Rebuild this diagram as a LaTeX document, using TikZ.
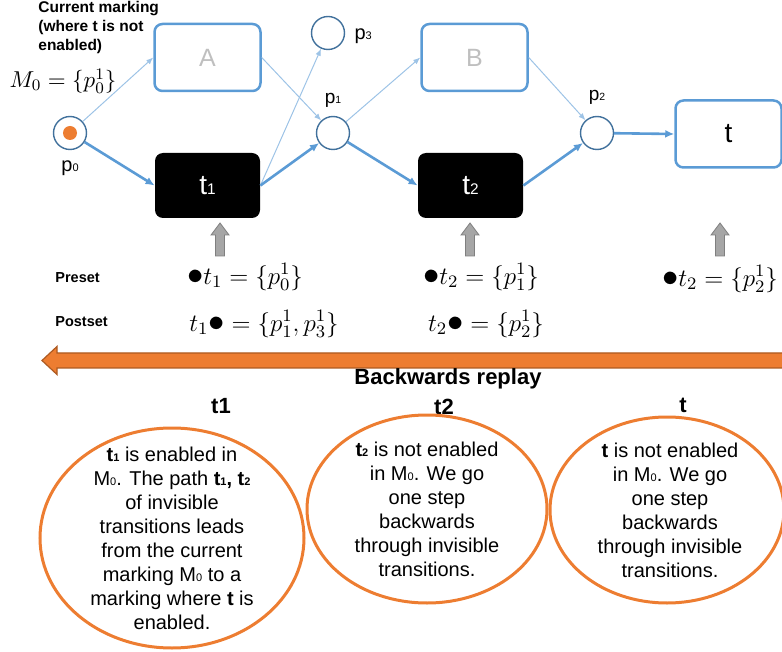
\documentclass[tikz,border=0pt]{standalone}
\usepackage{fix-cm}
\usepackage{amsmath,amssymb}
\usepackage{fontspec}
\setmainfont{Liberation Sans}
\usepackage{xcolor}
\usepackage{tikz}
\usetikzlibrary{shapes.geometric, arrows.meta, positioning}

\definecolor{boxblue}{HTML}{5B9BD5}
\definecolor{lightarc}{HTML}{9DC3E6}
\definecolor{placeblue}{HTML}{41719C}
\definecolor{mkorange}{HTML}{ED7D31}
\definecolor{darkorange}{HTML}{AE5A21}
\definecolor{greyarrow}{HTML}{A6A6A6}
\definecolor{greyedge}{HTML}{7F7F7F}
\definecolor{fadetext}{HTML}{BFBFBF}

\newcommand{\sdig}[1]{\scalebox{0.55}{#1}}
\newcommand{\bigdot}{\mathord{\scalebox{1.3}{$\bullet$}}}

\begin{document}
\begin{tikzpicture}[x=0.5pt, y=-0.5pt, node distance=4pt,
    place/.style={circle, draw=placeblue, line width=0.7pt, fill=white, minimum size=16.5pt, inner sep=0pt},
    token/.style={circle, fill=mkorange, minimum size=7pt, inner sep=0pt},
    silent/.style={rectangle, draw=boxblue, line width=1.25pt, rounded corners=4pt, minimum width=53pt, minimum height=33.5pt, text=fadetext, font=\fontsize{12.5}{14}\selectfont},
    invis/.style={rectangle, fill=black, rounded corners=4pt, minimum width=52.5pt, minimum height=32.5pt, text=white, font=\fontsize{14}{16}\selectfont},
    visible/.style={rectangle, draw=boxblue, fill=white, line width=1.25pt, rounded corners=4pt, minimum width=53pt, minimum height=33.5pt, font=\fontsize{14}{16}\selectfont},
    plabel/.style={inner sep=0pt, font=\fontsize{10}{12}\selectfont},
    formula/.style={inner sep=0pt, font=\fontsize{12.5}{14}\selectfont},
    setname/.style={inner sep=0pt, anchor=west, font=\fontsize{7.25}{9}\selectfont\bfseries},
    heading/.style={inner sep=0pt, font=\fontsize{11}{13}\selectfont\bfseries},
    pointer/.style={fill=greyarrow, draw=greyedge, line width=0.4pt},
    replayarrow/.style={fill=mkorange, draw=darkorange, line width=0.6pt},
    bubble/.style={ellipse, draw=mkorange, line width=1.5pt},
    bubbletext/.style={align=center, inner sep=0pt, font=\fontsize{10}{12}\selectfont},
    softarc/.style={-{Latex[length=3.5pt,width=2.8pt]}, draw=lightarc, line width=0.5pt},
    boldarc/.style={-{Latex[length=4.5pt,width=4pt]}, draw=boxblue, line width=1.3pt}]
    \useasboundingbox (0,0) rectangle (782,652);

    % places and transitions
    \node [place] (p0) at (70,133) {};
    \node [place] (p1) at (333,133) {};
    \node [place] (p2) at (597,133) {};
    \node [place] (p3) at (328,33) {};
    \node [silent] (A) at (207.5,57.5) {A};
    \node [invis] (t1) at (207.5,185.5) {t\sdig{1}};
    \node [silent] (B) at (474.5,57.5) {B};
    \node [invis] (t2) at (470.5,185.5) {t\sdig{2}};
    \node [visible] (t) at (728.5,134) {t};

    \draw [softarc] (p0) -- (A.west);
    \draw [boldarc] (p0) -- (t1.west);
    \draw [softarc] (A.east) -- (p1);
    \draw [softarc] (t1.east) -- (p3);
    \draw [boldarc] (t1.east) -- (p1);
    \draw [softarc] (p1) -- (B.west);
    \draw [boldarc] (p1) -- (t2.west);
    \draw [softarc] (B.east) -- (p2);
    \draw [boldarc] (t2.east) -- (p2);
    \draw [boldarc] (p2) -- (t.west);
    \node [token] (tok) at (p0) {};

    % place names
    \node [plabel, below=5pt of p0] (lp0) {p\sdig{0}};
    \node [plabel, font=\fontsize{9.5}{11}\selectfont, above=4pt of p1] (lp1) {p\sdig{1}};
    \node [plabel, font=\fontsize{9.5}{11}\selectfont, above=5.5pt of p2] (lp2) {p\sdig{2}};
    \node [plabel, right=4.5pt of p3, yshift=-1.5pt] (lp3) {p\sdig{3}};

    % marking
    \node [inner sep=0pt, anchor=north west, align=left, font=\fontsize{7.75}{9.5}\selectfont\bfseries] (cur) at (38,1) {Current marking\\(where t is not\\enabled)};
    \node [formula, font=\fontsize{11.5}{14}\selectfont] (m0) at (63,81) {$M_0 = \{p_0^1\}$};

    % presets and postsets
    \foreach \x in {220,470,720}
        \filldraw [pointer] (\x,223) -- ++(9,12) -- ++(-4.5,0) -- ++(0,21) -- ++(-9,0) -- ++(0,-21) -- ++(-4.5,0) -- cycle;
    \node [setname] (preset) at (55,278) {Preset};
    \node [setname] (postset) at (55,322) {Postset};
    \node [formula] (pre1) at (245,277) {$\bigdot t_1 = \{p_0^1\}$};
    \node [formula] (post1) at (264,324) {$t_1\bigdot = \{p_1^1, p_3^1\}$};
    \node [formula] (pre2) at (481,277) {$\bigdot t_2 = \{p_1^1\}$};
    \node [formula] (post2) at (486,324) {$t_2\bigdot = \{p_2^1\}$};
    \node [formula] (pre3) at (720,279) {$\bigdot t_2 = \{p_2^1\}$};

    % replay
    \filldraw [replayarrow] (42,360.5) -- (57,346.5) -- (57,353) -- (800,353) -- (800,368) -- (57,368) -- (57,374.5) -- cycle;
    \node [heading] (back) at (448,379) {Backwards replay};
    \node [heading] (h1) at (221,406) {t1};
    \node [heading] (h2) at (444,407) {t2};
    \node [heading] (h3) at (683,405) {t};

    \node [bubble, minimum width=132pt, minimum height=110pt] (e1) at (172,538) {};
    \node [bubble, minimum width=120pt, minimum height=94pt] (e2) at (427,509) {};
    \node [bubble, minimum width=117pt, minimum height=93pt] (e3) at (667,510) {};
    \node [bubbletext] (txt1) at (e1) {\textbf{t\sdig{1}} is enabled in\\M\sdig{0}. The path \textbf{t\sdig{1}, t\sdig{2}}\\of invisible\\transitions leads\\from the current\\marking M\sdig{0} to a\\marking where \textbf{t} is\\enabled.};
    \node [bubbletext] (txt2) at (e2) {\textbf{t\sdig{2}} is not enabled\\in M\sdig{0}. We go\\one step\\backwards\\through invisible\\transitions.};
    \node [bubbletext] (txt3) at (670,510) {\textbf{t} is not enabled\\in M\sdig{0}. We go\\one step\\backwards\\through invisible\\transitions.};
\end{tikzpicture}
\end{document}
